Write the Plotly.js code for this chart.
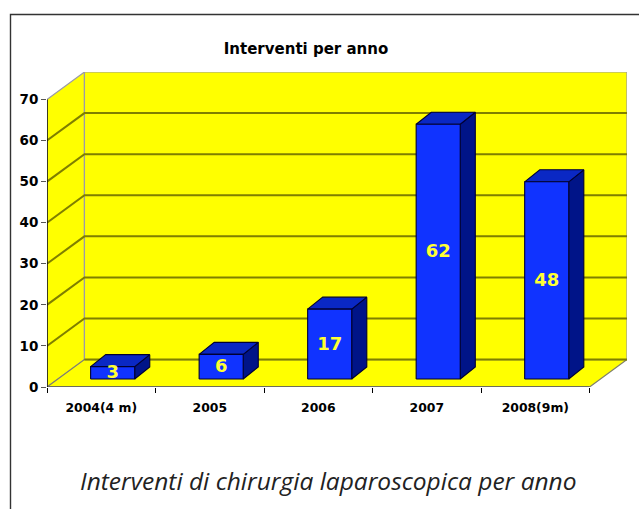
<!DOCTYPE html>
<html><head><meta charset="utf-8">
<script src="https://cdn.plot.ly/plotly-3.0.1.min.js"></script>
<style>html,body{margin:0;padding:0;background:#fff;overflow:hidden}</style>
</head><body><div id="c" style="width:639px;height:509px"></div>
<script>
const categories = ["2004(4 m)","2005","2006","2007","2008(9m)"];
const values = [3,6,17,62,48];
const yTicks = [0,10,20,30,40,50,60,70];

// oblique projection, in axis units
const wallDX = 0.345, wallDY = 6.68;
const barDX = 0.139, barDY = 2.92;
const barOffX = 0.105, barOffY = 1.95, barHalf = 0.203;

const W = categories.length, T = 70;
const poly = (xs, ys, fill, line, lw) => ({type:'scatter',mode:'lines',x:[...xs,xs[0]],y:[...ys,ys[0]],
  fill:'toself',fillcolor:fill,line:{color:line,width:lw},hoverinfo:'skip',showlegend:false,cliponaxis:false});
const seg = (xs, ys, color, lw) => ({type:'scatter',mode:'lines',x:xs,y:ys,line:{color:color,width:lw},hoverinfo:'skip',showlegend:false,cliponaxis:false});

const traces = [];
traces.push(poly([0,wallDX,wallDX,0],[0,wallDY,T+wallDY,T],'#ffff00','#9a9aa8',1.2));
traces.push(poly([wallDX,W+wallDX,W+wallDX,wallDX],[wallDY,wallDY,T+wallDY,T+wallDY],'#ffff00','#9a9aa8',1.2));
traces.push(poly([0,W,W+wallDX,wallDX],[0,0,wallDY,wallDY],'#ffff00','#80806a',1.2));
yTicks.slice(1,-1).forEach(v=>{
  traces.push(seg([0,wallDX,W+wallDX],[v,v+wallDY,v+wallDY],'#7f7f00',2));
});
traces.push(seg([wallDX,W+wallDX],[wallDY,wallDY],'#7f7f00',2));
values.forEach((v,i)=>{
  const l=i+0.5+barOffX-barHalf, r=i+0.5+barOffX+barHalf, b=barOffY, t=barOffY+v;
  traces.push(poly([r,r+barDX,r+barDX,r],[b,b+barDY,t+barDY,t],'#001488','#000033',1.1));
  traces.push(poly([l,l+barDX,r+barDX,r],[t,t+barDY,t+barDY,t],'#0a28c4','#000033',1.1));
  traces.push(poly([l,r,r,l],[b,b,t,t],'#1033ff','#000033',1.1));
});
traces.push(seg([0,W],[0,0],'#6e6e5a',2));
traces.push(seg([0,0],[0,T],'#000000',1.4));
traces.push({type:'scatter',mode:'text',x:values.map((v,i)=>i+0.5+barOffX),y:values.map(v=>barOffY+v/2-0.25),
  text:values.map(String),textposition:'middle center',textfont:{family:'DejaVu Sans',size:18,color:'#ffff33',weight:'bold'},
  hoverinfo:'skip',showlegend:false,cliponaxis:false});

const layout = {
  width:639,height:509,paper_bgcolor:'#fff',plot_bgcolor:'rgba(0,0,0,0)',showlegend:false,
  margin:{l:47,r:12,t:72,b:122,pad:0},
  font:{family:'DejaVu Sans',color:'#000'},
  title:{text:'Interventi per anno',x:306/639,xanchor:'center',xref:'container',y:1-49/509,yanchor:'middle',yref:'container',
    font:{family:'DejaVu Sans',size:15,weight:'bold',color:'#000'}},
  xaxis:{range:[0,W+wallDX],showgrid:false,zeroline:false,showline:false,tickmode:'array',
    tickvals:categories.map((c,i)=>i+0.5),ticktext:categories,ticks:'',ticklen:0,ticklabelstandoff:12,
    tickfont:{family:'DejaVu Sans',size:12.4,weight:'bold',color:'#000'},
    minor:{tickmode:'array',tickvals:[0,1,2,3,4,5],ticks:'outside',ticklen:5,tickcolor:'#000',tickwidth:1,showgrid:false}},
  yaxis:{range:[0,T+wallDY],showgrid:false,zeroline:false,showline:false,tickmode:'array',tickvals:yTicks,
    ticks:'outside',ticklen:5,tickcolor:'#555',tickwidth:1,
    tickfont:{family:'DejaVu Sans',size:13.5,weight:'bold',color:'#000'}},
  annotations:[{text:'<i>Interventi di chirurgia laparoscopica per anno</i>',xref:'paper',yref:'paper',
    x:(328.5-47)/580,y:-(480-387)/315,xanchor:'center',yanchor:'middle',showarrow:false,
    font:{family:'Open Sans',size:24.5,color:'#222'}}],
  shapes:[{type:'path',xref:'paper',yref:'paper',layer:'above',
    path:`M ${(10.5-47)/580} ${-(520-387)/315} L ${(10.5-47)/580} ${(387-14.5)/315} L ${(645-47)/580} ${(387-14.5)/315}`,
    line:{color:'#333',width:1.4}}]
};
Plotly.newPlot('c',traces,layout,{staticPlot:true,displayModeBar:false});
</script></body></html>
